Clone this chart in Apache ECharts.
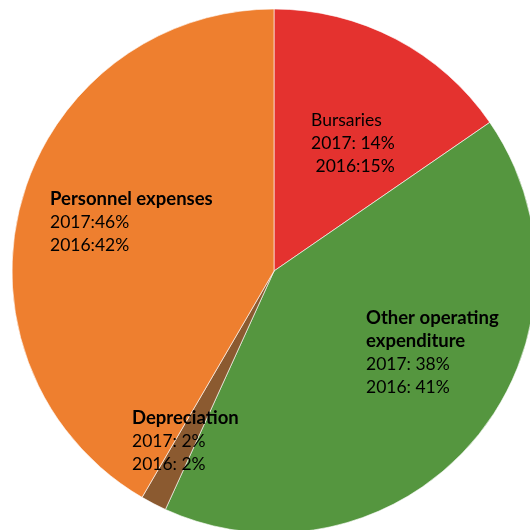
<!DOCTYPE html>
<html>
<head>
<meta charset="utf-8">
<script src="https://cdn.jsdelivr.net/npm/echarts@6/dist/echarts.min.js"></script>
<style>
  html, body { margin: 0; padding: 0; background: #fff; }
  #main { width: 530px; height: 530px; }
</style>
</head>
<body>
<div id="main"></div>
<script>
// expenditure split, slices drawn clockwise from 12 o'clock
var categories = ['Bursaries', 'Other operating expenditure', 'Depreciation', 'Personnel expenses'];
var sliceValues = [15.4, 41.4, 1.6, 41.6];
var pct2017 = ['2017: 14%', '2017: 38%', '2017: 2%', '2017:46%'];
var pct2016 = [' 2016:15%', '2016: 41%', '2016: 2%', '2016:42%'];
var colors = ['#e4322f', '#55963f', '#8b5a30', '#ee7f2f'];

// top-left corner of each label block
var labelPos = [[311, 109], [366, 307], [132, 407], [50, 188]];

var myChart = echarts.init(document.getElementById('main'));

var data = categories.map(function (c, i) {
    var head = c === 'Bursaries' ? '{n|Bursaries}'
        : c === 'Other operating expenditure' ? '{b|Other operating}\n{b|expenditure}'
        : '{b|' + c + '}';
    return {
        name: c,
        value: sliceValues[i],
        itemStyle: { color: colors[i] },
        label: { formatter: head + '\n{n|' + pct2017[i] + '}\n{n|' + pct2016[i] + '}' }
    };
});

var option = {
    animation: false,
    series: [{
        type: 'pie',
        center: [274, 271],
        radius: 262,
        startAngle: 90,
        clockwise: true,
        itemStyle: { borderColor: '#ffffff', borderWidth: 0.6 },
        label: {
            show: true,
            position: 'inside',
            color: '#000',
            fontFamily: 'Lato',
            fontSize: 17.5,
            align: 'left',
            rich: {
                b: { fontFamily: 'Lato', fontWeight: 'bold', fontSize: 18.5, lineHeight: 23, color: '#000', align: 'left' },
                n: { fontFamily: 'Lato', fontSize: 17.5, lineHeight: 23, color: '#000', align: 'left' }
            }
        },
        labelLine: { show: false },
        labelLayout: function (p) {
            var xy = labelPos[p.dataIndex];
            return { x: xy[0], y: xy[1], align: 'left', verticalAlign: 'top' };
        },
        data: data
    }]
};

myChart.setOption(option);
</script>
</body>
</html>
